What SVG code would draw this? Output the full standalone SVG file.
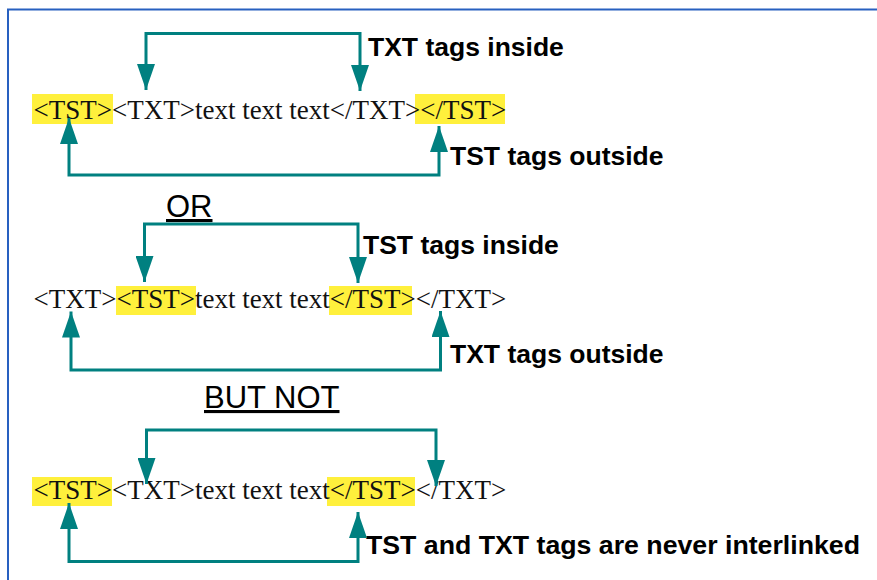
<svg xmlns="http://www.w3.org/2000/svg" width="877" height="580" viewBox="0 0 877 580">
  <defs>
    <marker id="ah" markerUnits="userSpaceOnUse" markerWidth="26" markerHeight="18" refX="26" refY="9" orient="auto-start-reverse" viewBox="0 0 26 18">
      <path d="M0,0 L26,9 L0,18 z" fill="#008080"/>
    </marker>
    <style>
      .hl { fill: #fff03c; }
      .code { font-family: "Liberation Serif", "Times New Roman", serif; font-size: 27px; fill: #111; }
      .lbl { font-family: "Liberation Sans", Arial, sans-serif; font-size: 26.5px; font-weight: bold; fill: #000; }
      .sep { font-family: "Liberation Sans", Arial, sans-serif; font-size: 31px; fill: #000; text-decoration: underline; }
      .conn { fill: none; stroke: #008080; stroke-width: 3; marker-start: url(#ah); marker-end: url(#ah); }
      .border { fill: none; stroke: #2860c0; stroke-width: 2; }
    </style>
  </defs>
  <rect width="877" height="580" fill="#ffffff"/>
  <path class="border" d="M8,580 V9.5 H877"/>

  <g id="row1">
    <rect class="hl" x="32" y="94" width="81" height="30"/>
    <rect class="hl" x="415" y="94" width="90" height="30"/>
    <text class="code" x="33.5" y="119">&lt;TST&gt;&lt;TXT&gt;text text text&lt;/TXT&gt;&lt;/TST&gt;</text>
  </g>
  <g id="label-txt-inside">
    <text class="lbl" x="368" y="56">TXT tags inside</text>
  </g>
  <g id="label-tst-outside">
    <text class="lbl" x="450" y="165">TST tags outside</text>
  </g>

  <g id="sep-or">
    <text class="sep" x="166" y="217">OR</text>
  </g>

  <g id="row2">
    <rect class="hl" x="116" y="286" width="80" height="29"/>
    <rect class="hl" x="329" y="286" width="83" height="29"/>
    <text class="code" x="33.5" y="308">&lt;TXT&gt;&lt;TST&gt;text text text&lt;/TST&gt;&lt;/TXT&gt;</text>
  </g>
  <g id="label-tst-inside">
    <text class="lbl" x="363" y="254">TST tags inside</text>
  </g>
  <g id="label-txt-outside">
    <text class="lbl" x="450" y="363">TXT tags outside</text>
  </g>

  <g id="sep-butnot">
    <text class="sep" x="204" y="408">BUT NOT</text>
  </g>

  <g id="row3">
    <rect class="hl" x="32" y="477" width="80" height="29"/>
    <rect class="hl" x="327" y="477" width="88" height="29"/>
    <text class="code" x="33.5" y="498.5">&lt;TST&gt;&lt;TXT&gt;text text text&lt;/TST&gt;&lt;/TXT&gt;</text>
  </g>
  <g id="label-never">
    <text class="lbl" x="366" y="554" textLength="494" lengthAdjust="spacingAndGlyphs">TST and TXT tags are never interlinked</text>
  </g>

  <g id="connectors">
    <path class="conn" d="M146,90 V33.5 H360 V91"/>
    <path class="conn" d="M69,118 V175 H439 V126"/>
    <path class="conn" d="M144.5,282 V224 H358 V283"/>
    <path class="conn" d="M71,311.5 V370 H440.5 V311"/>
    <path class="conn" d="M146.5,484 V430 H436 V486"/>
    <path class="conn" d="M69,503 V561.5 H358 V512"/>
  </g>
</svg>
